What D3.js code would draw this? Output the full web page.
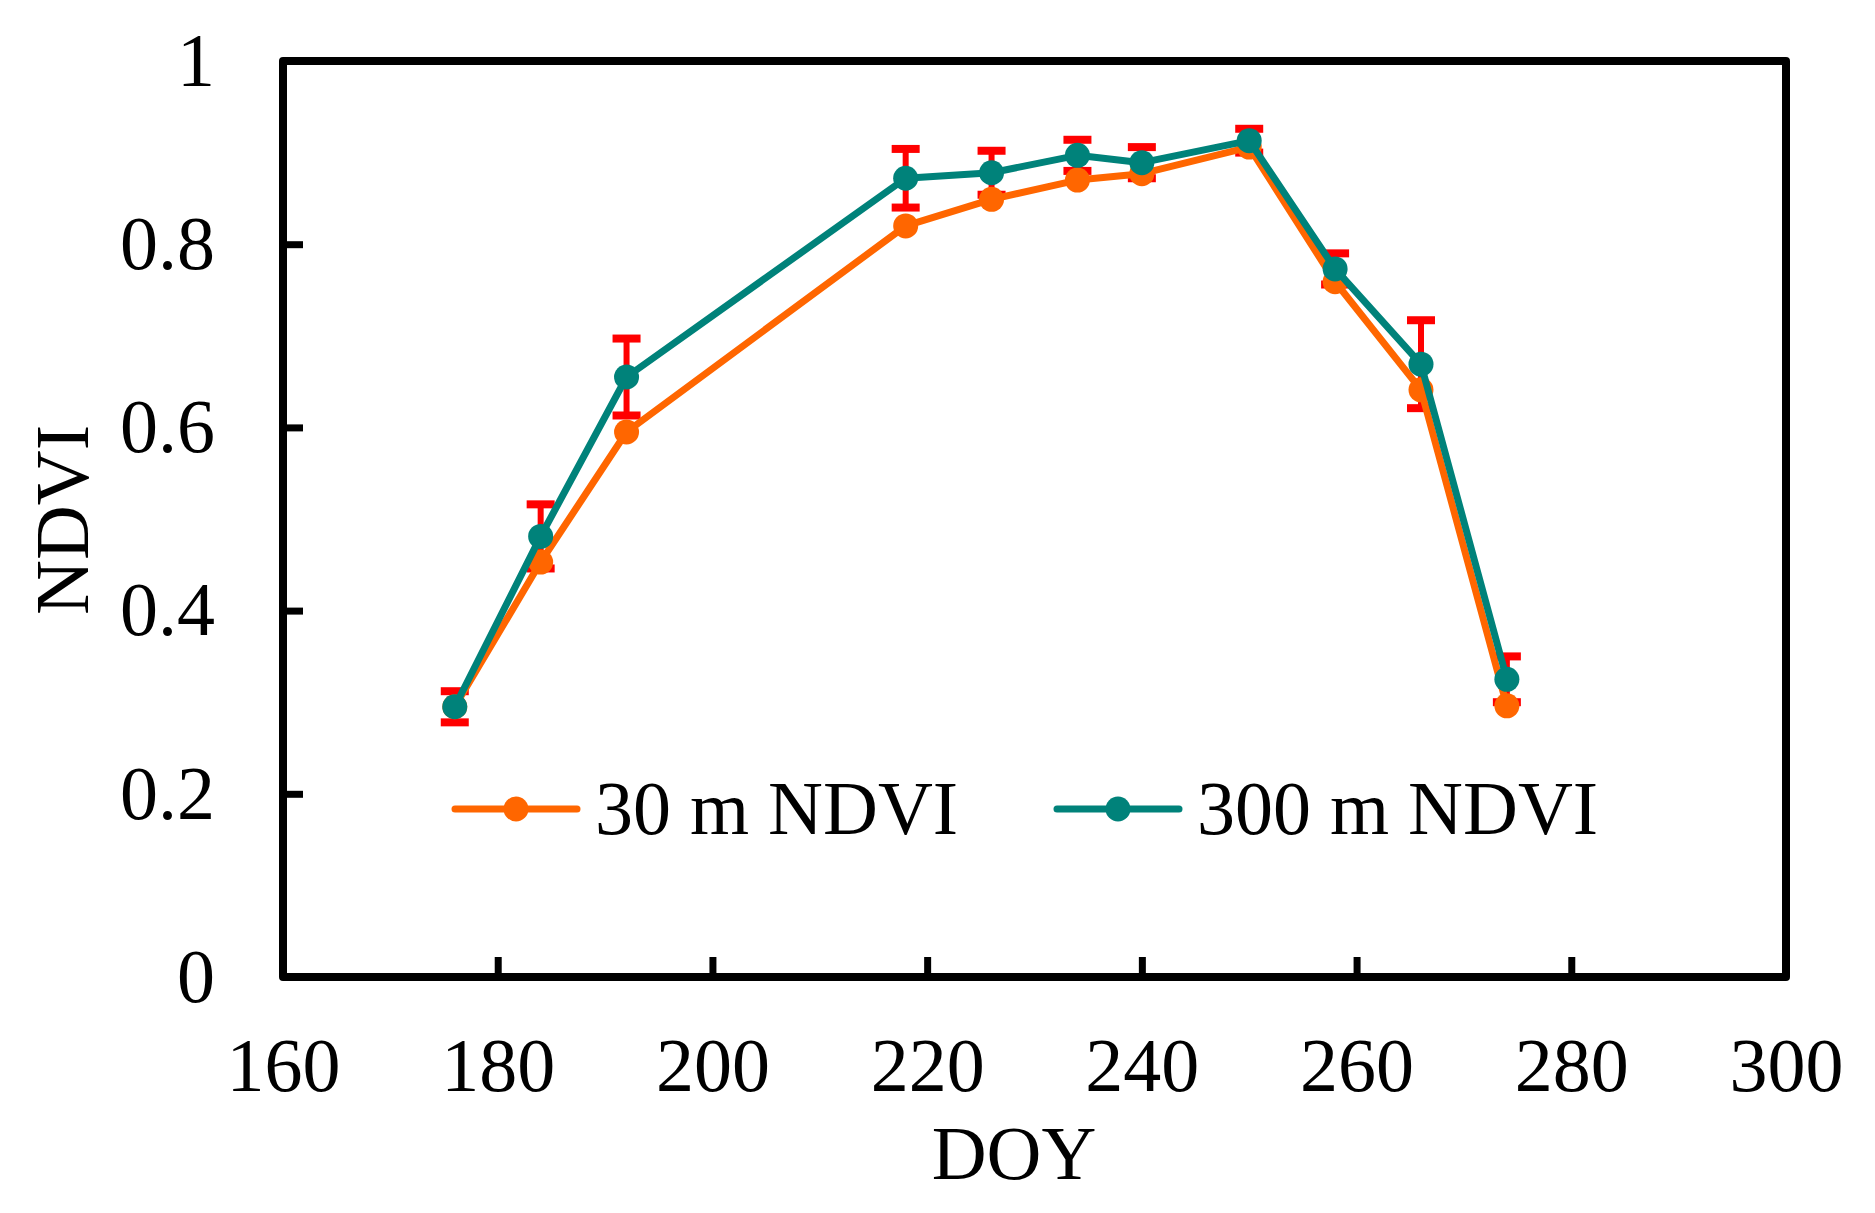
<!DOCTYPE html>
<html>
<head>
<meta charset="utf-8">
<script src="https://cdn.jsdelivr.net/npm/d3@7"></script>
<style>
  body { margin: 0; background: #fff; }
  text { font-family: "Liberation Serif", "Times New Roman", serif; fill: #000; }
</style>
</head>
<body>
<div id="chart"></div>
<script>
// values
const doy = [176, 184, 192, 218, 226, 234, 240, 250, 258, 266, 274]
const ndvi30 = [0.295, 0.453, 0.595, 0.820, 0.849, 0.870, 0.877, 0.906, 0.759, 0.641, 0.296]
const ndvi300 = [0.295, 0.481, 0.655, 0.872, 0.878, 0.897, 0.889, 0.913, 0.773, 0.669, 0.325]
const err300 = [0.017, 0.035, 0.042, 0.032, 0.024, 0.017, 0.017, 0.013, 0.017, 0.048, 0.025]
const xTicks = [160, 180, 200, 220, 240, 260, 280, 300]
const yTicks = [0, 0.2, 0.4, 0.6, 0.8, 1]
const seriesNames = ['30 m NDVI', '300 m NDVI']

const width = 1875, height = 1213
const orange = '#ff6600', teal = '#00827a', red = '#ff0000'

const x = d3.scaleLinear().domain([160, 300]).range([283, 1786])
const y = d3.scaleLinear().domain([0, 1]).range([977, 61])

const svg = d3.select('#chart').append('svg')
  .attr('width', width)
  .attr('height', height)

svg.append('rect').attr('width', width).attr('height', height).attr('fill', '#fff')

// axes, ticks pointing inward
const xAxis = d3.axisBottom(x).tickValues(xTicks).tickFormat(d3.format('d'))
  .tickSizeInner(-20).tickSizeOuter(0).tickPadding(60)
const yAxis = d3.axisLeft(y).tickValues(yTicks).tickFormat(d => String(d))
  .tickSizeInner(-20).tickSizeOuter(0).tickPadding(68)

const gx = svg.append('g').attr('transform', `translate(0,${y(0)})`).call(xAxis)
const gy = svg.append('g').attr('transform', `translate(${x(160)},0)`).call(yAxis)
;[gx, gy].forEach(g => {
  g.select('.domain').remove()
  g.selectAll('line').attr('stroke', '#000').attr('stroke-width', 7)
  g.selectAll('text').style('font-size', '76px').attr('fill', '#000')
})

// frame
svg.append('rect')
  .attr('x', x(160)).attr('y', y(1))
  .attr('width', x(300) - x(160)).attr('height', y(0) - y(1))
  .attr('fill', 'none').attr('stroke', '#000').attr('stroke-width', 8)
  .attr('stroke-linejoin', 'round')

// axis titles
svg.append('text')
  .attr('x', 1014).attr('y', 1179)
  .attr('text-anchor', 'middle')
  .style('font-size', '76px')
  .text('DOY')
svg.append('text')
  .attr('transform', 'translate(88,520) rotate(-90)')
  .attr('text-anchor', 'middle')
  .style('font-size', '76px')
  .text('NDVI')

// error bars on the 300 m series
const capW = 14
const eb = svg.append('g').attr('stroke', red)
doy.forEach((d, i) => {
  const cx = x(d)
  const top = y(ndvi300[i] + err300[i]), bot = y(ndvi300[i] - err300[i])
  eb.append('line').attr('x1', cx).attr('x2', cx).attr('y1', top).attr('y2', bot).attr('stroke-width', 6)
  eb.append('line').attr('x1', cx - capW).attr('x2', cx + capW).attr('y1', top).attr('y2', top).attr('stroke-width', 8)
  eb.append('line').attr('x1', cx - capW).attr('x2', cx + capW).attr('y1', bot).attr('y2', bot).attr('stroke-width', 8)
})

const line = d3.line().x(d => x(d[0])).y(d => y(d[1]))

function drawSeries(vals, color) {
  const pts = doy.map((d, i) => [d, vals[i]])
  svg.append('path')
    .datum(pts)
    .attr('d', line)
    .attr('fill', 'none')
    .attr('stroke', color)
    .attr('stroke-width', 7)
    .attr('stroke-linejoin', 'round')
  svg.append('g').selectAll('circle')
    .data(pts)
    .enter().append('circle')
    .attr('cx', d => x(d[0]))
    .attr('cy', d => y(d[1]))
    .attr('r', 12.5)
    .attr('fill', color)
}
drawSeries(ndvi30, orange)
drawSeries(ndvi300, teal)

// legend
const legend = [
  { name: seriesNames[0], color: orange, x0: 455 },
  { name: seriesNames[1], color: teal, x0: 1057 }
]
const ly = 809
legend.forEach(l => {
  svg.append('line')
    .attr('x1', l.x0).attr('x2', l.x0 + 122)
    .attr('y1', ly).attr('y2', ly)
    .attr('stroke', l.color).attr('stroke-width', 7).attr('stroke-linecap', 'round')
  svg.append('circle')
    .attr('cx', l.x0 + 61).attr('cy', ly).attr('r', 12.5).attr('fill', l.color)
  svg.append('text')
    .attr('x', l.x0 + 140).attr('y', 834)
    .style('font-size', '76px')
    .text(l.name)
})
</script>
</body>
</html>
